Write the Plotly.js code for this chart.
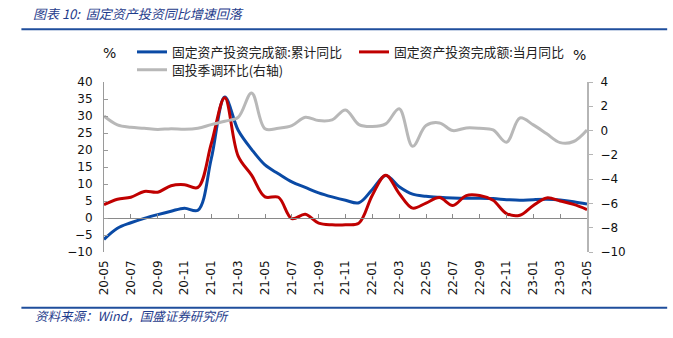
<!DOCTYPE html>
<html>
<head>
<meta charset="utf-8">
<script src="https://cdn.plot.ly/plotly-3.0.1.min.js"></script>
<style>
html,body{margin:0;padding:0;background:#fff;}
#chart{width:673px;height:338px;}
</style>
</head>
<body>
<div id="chart"></div>
<script>
// ---- data ----
const months = ["20-05","20-06","20-07","20-08","20-09","20-10","20-11","20-12",
  "21-01","21-02","21-03","21-04","21-05","21-06","21-07","21-08","21-09","21-10","21-11","21-12",
  "22-01","22-02","22-03","22-04","22-05","22-06","22-07","22-08","22-09","22-10","22-11","22-12",
  "23-01","23-02","23-03","23-04","23-05"];
// 固定资产投资完成额:累计同比 (%)
const cumYoY = [-6.3,-3.0,-1.4,-0.1,1.0,2.0,2.9,2.3,
  17.5,35.6,25.8,20.2,15.6,13.0,10.6,9.0,7.4,6.2,5.2,4.5,
  8.4,12.5,9.2,7.0,6.4,6.1,5.9,5.8,5.8,5.7,5.4,5.2,
  5.4,5.5,5.3,4.8,4.1];
// 固定资产投资完成额:当月同比 (%)
const monYoY = [3.9,5.5,6.1,7.8,7.6,9.5,9.8,9.0,
  21.9,35.4,18.2,12.6,6.2,6.1,-0.2,1.1,-1.5,-2.0,-2.0,-1.5,
  6.7,12.6,7.2,2.9,4.4,6.0,3.7,6.6,6.6,5.2,1.3,0.8,
  3.7,5.9,5.0,4.0,2.5];
// 固投季调环比 (右轴, %)
const qoqSA = [1.2,0.47,0.27,0.19,0.08,0.16,0.11,0.19,
  0.49,0.77,1.1,3.1,0.15,0.2,0.41,1.1,0.82,0.88,1.7,0.49,
  0.33,0.55,1.8,-1.3,0.41,0.63,0.0,0.22,0.19,0.05,-0.96,1.04,
  0.47,-0.27,-0.99,-0.9,0.05];
const seriesNames = ["固定资产投资完成额:累计同比","固定资产投资完成额:当月同比","固投季调环比(右轴)"];
const leftTicks = [-10,-5,0,5,10,15,20,25,30,35,40];
const rightTicks = [-10,-8,-6,-4,-2,0,2,4];
const xTickLabels = months.filter((m,i)=>i%2===0);

const tickFont = {family:"DejaVu Sans, Verdana, sans-serif", size:12, color:"#111"};
const cjk = "Noto Sans CJK SC, sans-serif";
const lastIdx = months.length - 1;

const traces = [
  {x:months, y:cumYoY, name:seriesNames[0], type:"scatter", mode:"lines",
   line:{color:"#0a4aa5", width:3, shape:"spline", smoothing:1}, xaxis:"x", yaxis:"y", legend:"legend"},
  {x:months, y:monYoY, name:seriesNames[1], type:"scatter", mode:"lines",
   line:{color:"#c00000", width:3, shape:"spline", smoothing:1}, xaxis:"x", yaxis:"y", legend:"legend"},
  {x:months, y:qoqSA, name:seriesNames[2], type:"scatter", mode:"lines",
   line:{color:"#b8b8b8", width:3, shape:"spline", smoothing:1}, xaxis:"x2", yaxis:"y2", legend:"legend2"}
];

const layout = {
  width:673, height:338,
  margin:{l:104, r:86, t:82, b:86, autoexpand:false},
  paper_bgcolor:"#fff", plot_bgcolor:"#fff",
  showlegend:true,
  title:{text:"<i>图表 10:  固定资产投资同比增速回落</i>", x:0.049, xanchor:"left", y:0.957, yanchor:"middle",
         font:{family:cjk, size:13, color:"#1f3c8c"}},
  xaxis:{type:"category", range:[0,lastIdx], showline:false, showgrid:false, zeroline:false,
         ticks:"", tickmode:"array", tickvals:xTickLabels, ticktext:xTickLabels, tickangle:-90,
         tickfont:tickFont, ticklabelstandoff:5, fixedrange:true},
  xaxis2:{type:"category", range:[0,lastIdx], overlaying:"x", anchor:"free", position:0.2, side:"bottom",
          showline:true, linecolor:"#8a8a8a", linewidth:1, showgrid:false, zeroline:false,
          ticks:"inside", ticklen:4, tickcolor:"#8a8a8a", tickmode:"array", tickvals:xTickLabels,
          showticklabels:false},
  yaxis:{range:[-10,40], tickmode:"array", tickvals:leftTicks, showline:true, linecolor:"#9a9a9a", linewidth:1,
         ticks:"inside", ticklen:4, tickcolor:"#9a9a9a", showgrid:false, zeroline:false,
         tickfont:tickFont, ticklabelstandoff:8},
  yaxis2:{range:[-10,4], tickmode:"array", tickvals:rightTicks, overlaying:"y", anchor:"x2", side:"right",
          showline:true, linecolor:"#b5b5b5", linewidth:2, ticks:"outside", ticklen:4, tickcolor:"#b5b5b5",
          showgrid:false, zeroline:false, tickfont:tickFont, ticklabelstandoff:5},
  legend:{orientation:"h", x:0.058, xanchor:"left", y:1.176, yanchor:"middle",
          font:{family:cjk, size:12.8, color:"#222"}, entrywidth:177, entrywidthmode:"pixels",
          bgcolor:"rgba(0,0,0,0)", borderwidth:0, itemclick:false},
  legend2:{orientation:"h", x:0.058, xanchor:"left", y:1.071, yanchor:"middle",
          font:{family:cjk, size:12.8, color:"#222"},
          bgcolor:"rgba(0,0,0,0)", borderwidth:0},
  annotations:[
    {text:"%", xref:"paper", yref:"paper", x:0.012, y:1.17, xanchor:"center", yanchor:"middle", showarrow:false,
     font:{family:"DejaVu Sans, sans-serif", size:14, color:"#111"}},
    {text:"%", xref:"paper", yref:"paper", x:0.984, y:1.159, xanchor:"center", yanchor:"middle", showarrow:false,
     font:{family:"DejaVu Sans, sans-serif", size:14, color:"#111"}},
    {text:"<i>资料来源：Wind，国盛证券研究所</i>", xref:"paper", yref:"paper", x:-0.147, y:-0.376,
     xanchor:"left", yanchor:"middle", showarrow:false, font:{family:cjk, size:12.5, color:"#1f3c8c"}}
  ],
  shapes:[
    {type:"line", xref:"paper", yref:"paper", x0:-0.171, x1:1.166, y0:1.31, y1:1.31, line:{color:"#1f4e9c", width:2}},
    {type:"line", xref:"paper", yref:"paper", x0:-0.171, x1:1.166, y0:-0.328, y1:-0.328, line:{color:"#1f4e9c", width:2}}
  ]
};

Plotly.newPlot("chart", traces, layout, {displayModeBar:false, staticPlot:true});
</script>
</body>
</html>
